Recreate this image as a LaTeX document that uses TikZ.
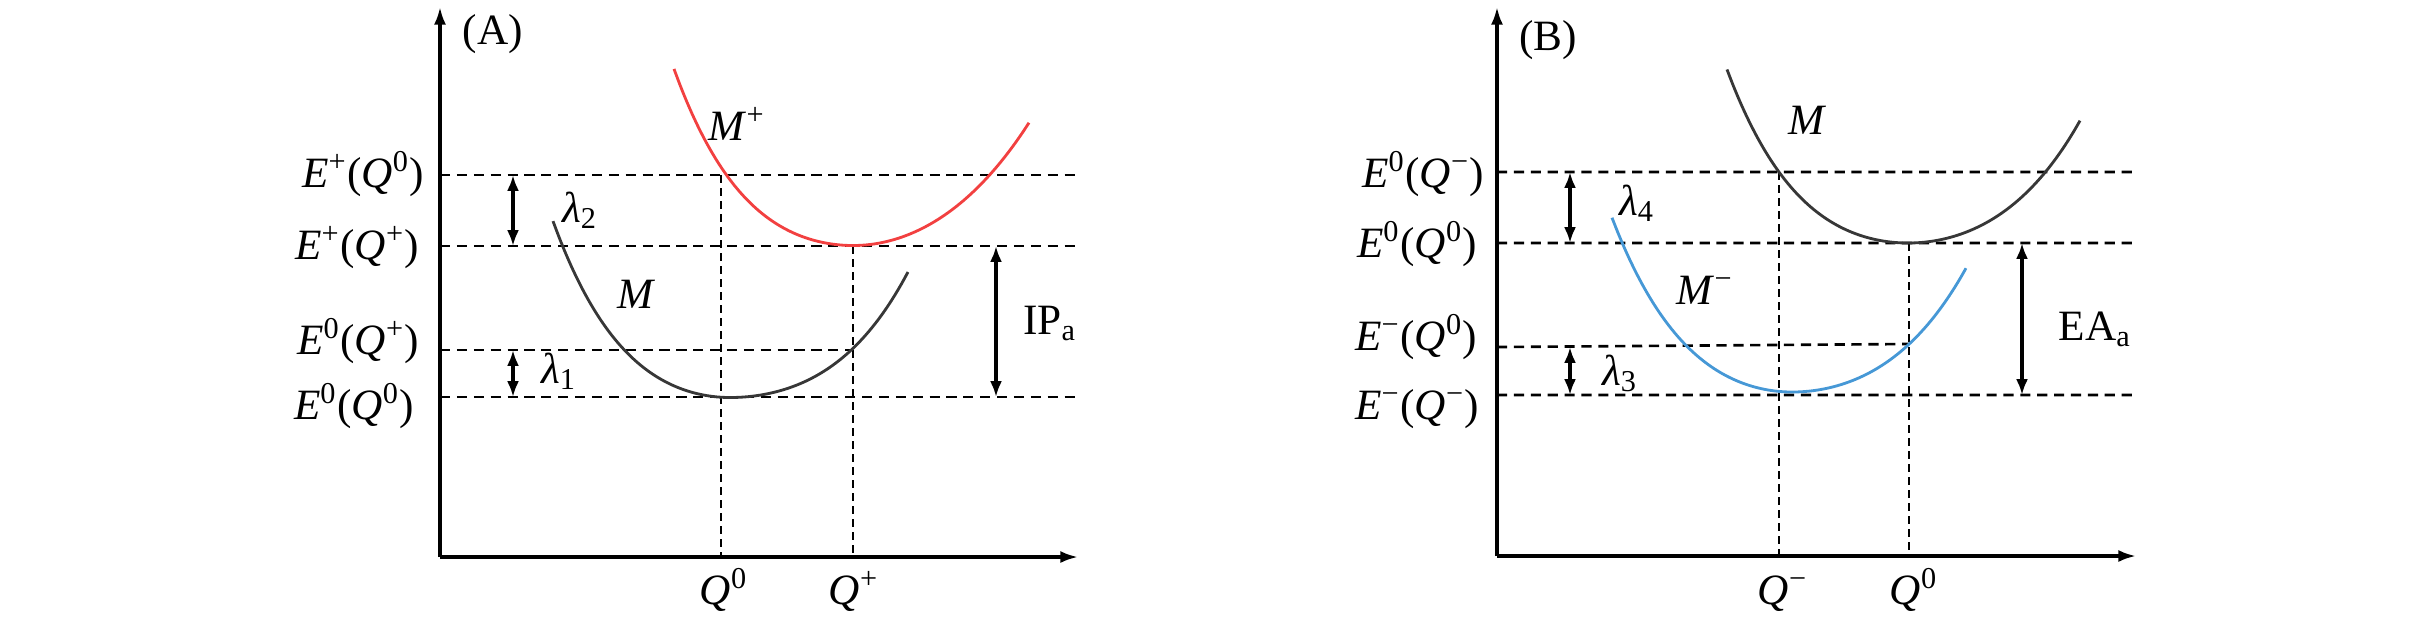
\documentclass[tikz,border=0pt]{standalone}
\usepackage{fontspec}
\setmainfont{Liberation Serif}
\usetikzlibrary{arrows.meta}

\definecolor{cationred}{RGB}{242,64,64}
\definecolor{anionblue}{RGB}{70,152,214}
\definecolor{neutralgray}{RGB}{55,55,55}

% E^{a}(Q^{b}) as set in the figure
\newcommand{\EQ}[2]{\textit{E}\textsuperscript{#1}(\textit{Q}\textsuperscript{#2})}

\begin{document}
\begin{tikzpicture}[
  x=0.01cm, y=-0.01cm,
  every node/.style={inner sep=0pt,font=\fontsize{12.3}{14}\selectfont},
  axisline/.style={line width=0.9pt,-{Latex[length=5pt,width=3.4pt]}},
  levelline/.style={line width=0.75pt,dash pattern=on 2.9pt off 1.9pt},
  qline/.style={line width=0.75pt,dash pattern=on 2.3pt off 1.4pt},
  gaparrow/.style={line width=0.9pt,{Latex[length=4.5pt,width=3.4pt]}-{Latex[length=4.5pt,width=3.4pt]}},
  pescurve/.style={line width=0.8pt,smooth,samples=60}
]
\useasboundingbox (0,0) rectangle (2414,620);

%% (A) ionisation
\coordinate (Ao) at (440,557);
\coordinate (Atop) at (440,7);
\coordinate (Aend) at (1078,557);
\draw[axisline] (Ao) -- (Atop);
\draw[axisline] (Ao) -- (Aend);
\node[anchor=base] (Atag) at (493,44) {(A)};

% energy levels
\coordinate (Ap0) at (440,175);  \coordinate (Ap0r) at (1080,175);
\coordinate (App) at (440,246);  \coordinate (Appr) at (1080,246);
\coordinate (A0p) at (440,350);  \coordinate (A0pr) at (853,350);
\coordinate (A00) at (440,397);  \coordinate (A00r) at (1080,397);
\draw[levelline] (Ap0) -- (Ap0r) (App) -- (Appr) (A0p) -- (A0pr) (A00) -- (A00r);

\coordinate (Aq0) at (721,175);  \coordinate (Aq0b) at (721,557);
\coordinate (Aqp) at (853,246);  \coordinate (Aqpb) at (853,557);
\draw[qline] (Aq0) -- (Aq0b) (Aqp) -- (Aqpb);

\node[anchor=base east] (lAp0) at (425,187) {\EQ{+}{0}};
\node[anchor=base east] (lApp) at (420,259) {\EQ{+}{+}};
\node[anchor=base east] (lA0p) at (420,354) {\EQ{0}{+}};
\node[anchor=base east] (lA00) at (415,419) {\EQ{0}{0}};

\node[anchor=base] (lAq0) at (724,604) {\textit{Q}\textsuperscript{0}};
\node[anchor=base] (lAqp) at (854,604) {\textit{Q}\textsuperscript{+}};

% gaps
\coordinate (Al2t) at (513,175); \coordinate (Al2b) at (513,246);
\coordinate (Al1t) at (513,350); \coordinate (Al1b) at (513,397);
\coordinate (Aipt) at (996,246); \coordinate (Aipb) at (996,397);
\draw[gaparrow] (Al2t) -- (Al2b);
\draw[gaparrow] (Al1t) -- (Al1b);
\draw[gaparrow] (Aipt) -- (Aipb);
\node[anchor=base] (Alam2) at (580,222) {\textit{λ}\textsubscript{2}};
\node[anchor=base] (Alam1) at (559,383) {\textit{λ}\textsubscript{1}};
\node[anchor=base] (Aip) at (1050,334) {IP\textsubscript{a}};

% potential curves (steeper on the left)
\draw[pescurve,cationred] plot[domain=-1.79:1.76]
  ({853+100*\x},{245.5-(\x<0 ? 33*\x*\x+6.9*\x*\x*\x*\x : 35*\x*\x+1.5*\x*\x*\x*\x)});
\draw[pescurve,neutralgray] plot[domain=-1.77:1.78]
  ({730+100*\x},{397.5-(\x<0 ? 35*\x*\x+6.8*\x*\x*\x*\x : 26*\x*\x+4.3*\x*\x*\x*\x)});
\node[anchor=base] (AMp) at (737,140) {\textit{M}\textsuperscript{+}};
\node[anchor=base] (AM) at (637,308) {\textit{M}};

%% (B) electron affinity
\coordinate (Bo) at (1497,556);
\coordinate (Btop) at (1497,7);
\coordinate (Bend) at (2136,556);
\draw[axisline] (Bo) -- (Btop);
\draw[axisline] (Bo) -- (Bend);
\node[anchor=base] (Btag) at (1548,50) {(B)};

% energy levels
\coordinate (B0m) at (1497,172);  \coordinate (B0mr) at (2138,172);
\coordinate (B00) at (1497,243);  \coordinate (B00r) at (2138,243);
\coordinate (Bm0) at (1497,347);  \coordinate (Bm0r) at (1909,344);
\coordinate (Bmm) at (1497,395);  \coordinate (Bmmr) at (2138,395);
\draw[levelline] (B0m) -- (B0mr) (B00) -- (B00r) (Bm0) -- (Bm0r) (Bmm) -- (Bmmr);

\coordinate (Bqm) at (1779,172);  \coordinate (Bqmb) at (1779,556);
\coordinate (Bq0) at (1909,243);  \coordinate (Bq0b) at (1909,556);
\draw[qline] (Bqm) -- (Bqmb) (Bq0) -- (Bq0b);

\node[anchor=base east] (lB0m) at (1485,187) {\EQ{0}{−}};
\node[anchor=base east] (lB00) at (1478,257) {\EQ{0}{0}};
\node[anchor=base east] (lBm0) at (1478,350) {\EQ{−}{0}};
\node[anchor=base east] (lBmm) at (1480,419) {\EQ{−}{−}};

\node[anchor=base] (lBqm) at (1783,604) {\textit{Q}\textsuperscript{−}};
\node[anchor=base] (lBq0) at (1914,604) {\textit{Q}\textsuperscript{0}};

% gaps
\coordinate (Bl4t) at (1570,172); \coordinate (Bl4b) at (1570,243);
\coordinate (Bl3t) at (1570,347); \coordinate (Bl3b) at (1570,395);
\coordinate (Beat) at (2022,243); \coordinate (Beab) at (2022,395);
\draw[gaparrow] (Bl4t) -- (Bl4b);
\draw[gaparrow] (Bl3t) -- (Bl3b);
\draw[gaparrow] (Beat) -- (Beab);
\node[anchor=base] (Blam4) at (1637,215) {\textit{λ}\textsubscript{4}};
\node[anchor=base] (Blam3) at (1620,385) {\textit{λ}\textsubscript{3}};
\node[anchor=base] (Bea) at (2095,340) {EA\textsubscript{a}};

% potential curves (steeper on the left)
\draw[pescurve,neutralgray] plot[domain=-1.81:1.72]
  ({1908+100*\x},{243-(\x<0 ? 32*\x*\x+6.4*\x*\x*\x*\x : 31*\x*\x+3.5*\x*\x*\x*\x)});
\draw[pescurve,anionblue] plot[domain=-1.80:1.74]
  ({1792+100*\x},{392-(\x<0 ? 35*\x*\x+5.8*\x*\x*\x*\x : 30*\x*\x+3.6*\x*\x*\x*\x)});
\node[anchor=base] (BM) at (1807,134) {\textit{M}};
\node[anchor=base] (BMm) at (1705,304) {\textit{M}\textsuperscript{−}};
\end{tikzpicture}
\end{document}
